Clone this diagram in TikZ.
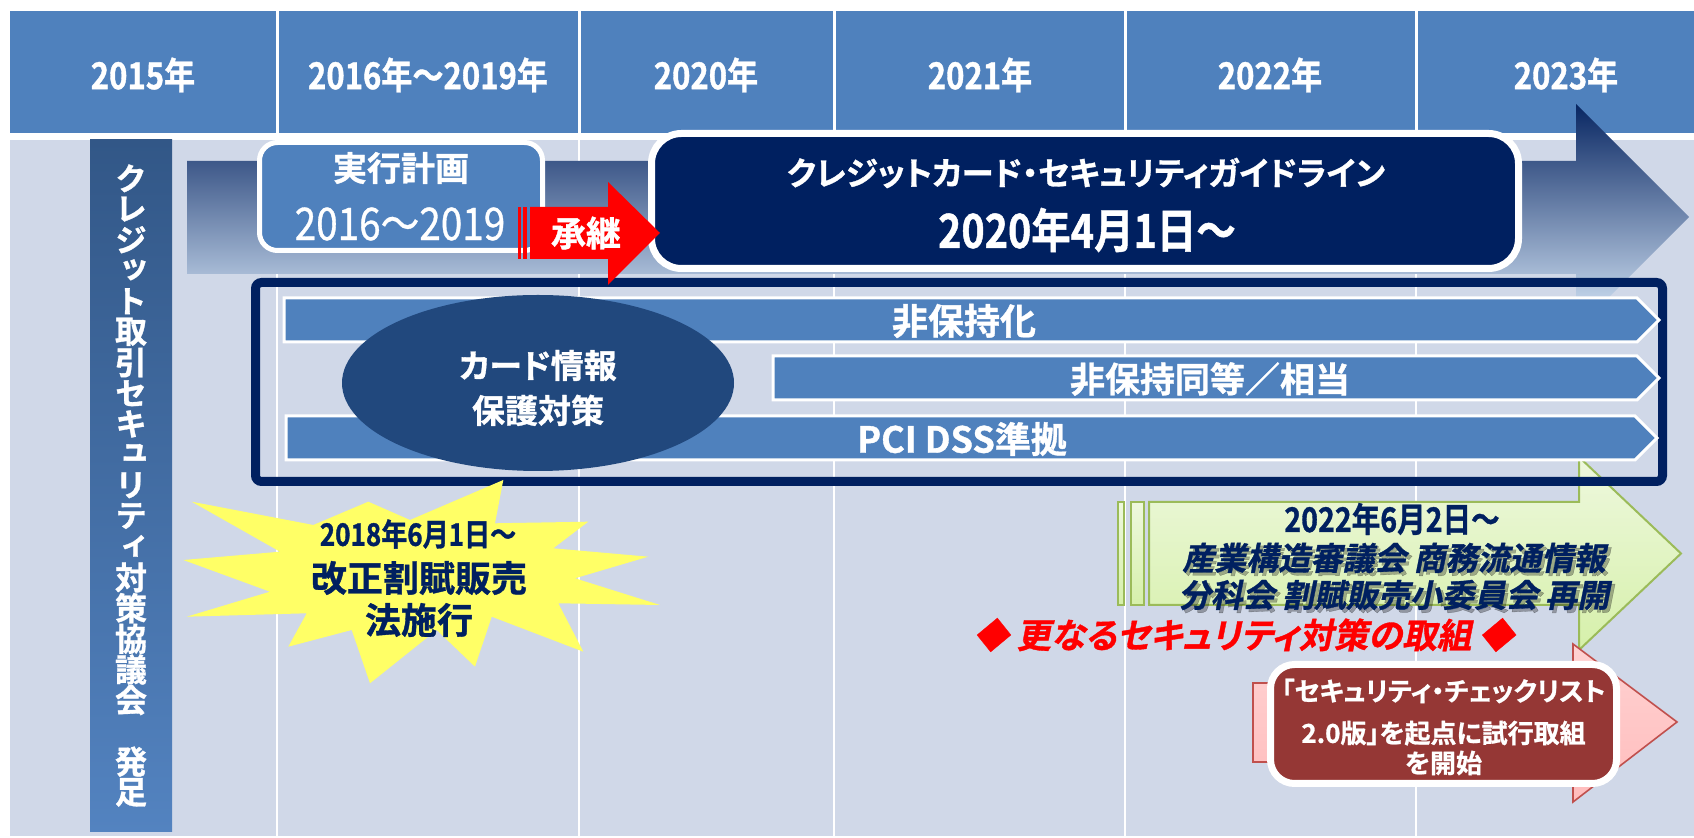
\documentclass[tikz,border=0pt]{standalone}
\usepackage{fontspec}
\setmainfont{Noto Sans CJK JP}
\newfontfamily\jpb{Noto Sans CJK JP Bold}[RawFeature=+palt,FakeBold=1]
\newfontfamily\jpbc{Noto Sans CJK JP Bold}[RawFeature=+palt,FakeStretch=0.84,FakeBold=1]
\newfontfamily\jpbsl{Noto Sans CJK JP Bold}[RawFeature=+palt,FakeSlant=0.2,FakeBold=1]
\newfontfamily\jprc{Noto Sans CJK JP}[FakeStretch=0.86,FakeBold=0.7]
\newfontfamily\jpvert{Noto Sans CJK JP Bold}[RawFeature=+vert,FakeBold=1]
\usetikzlibrary{shapes.geometric}
\definecolor{hdr}{RGB}{79,129,189}
\definecolor{bgb}{RGB}{208,216,232}
\definecolor{navy}{RGB}{0,32,96}
\definecolor{ell}{RGB}{33,72,125}
\definecolor{bartop}{RGB}{50,87,135}
\definecolor{barbot}{RGB}{83,131,192}
\definecolor{arrtop}{RGB}{8,38,98}
\definecolor{arrbot}{RGB}{220,236,252}
\definecolor{ylw}{RGB}{255,255,102}
\definecolor{grntop}{RGB}{238,248,222}
\definecolor{grnbot}{RGB}{214,240,170}
\definecolor{grnb}{RGB}{155,187,89}
\definecolor{pnktop}{RGB}{255,210,210}
\definecolor{pnkbot}{RGB}{255,188,188}
\definecolor{pnkb}{RGB}{192,80,77}
\definecolor{brn}{RGB}{149,55,53}
\tikzset{
  hdrtxt/.style={text=white, inner sep=0, font=\jpbc\fontsize{18.5}{20}\selectfont},
  vch/.style={text=white, inner sep=0, font=\jpvert\fontsize{16}{16}\selectfont},
  wtxt/.style={text=white, inner sep=0, align=center},
  ntxt/.style={text=navy, inner sep=0, align=center},
  barrow/.style={fill=hdr, draw=white, line width=1.5pt},
  greenarr/.style={top color=grntop, bottom color=grnbot, draw=grnb, line width=1pt},
  pinkarr/.style={top color=pnktop, bottom color=pnkbot, draw=pnkb, line width=0.8pt},
}
\begin{document}
\begin{tikzpicture}[x=0.5pt,y=-0.5pt]
\useasboundingbox (0,0) rectangle (1694,838);
\fill[white] (0,0) rectangle (1694,838);
% header and body
\fill[hdr] (10,11) rectangle (1694,133);
\fill[bgb] (10,140) rectangle (1694,836);
\foreach \xx in {277,579,834,1125,1416} {
  \draw[white,line width=1.5pt] (\xx,11) -- (\xx,133);
  \draw[white,line width=1pt] (\xx,140) -- (\xx,836);
}
\node[hdrtxt] (h1) at (143,75) {2015年};
\node[hdrtxt] (h2) at (428,75) {2016年～2019年};
\node[hdrtxt] (h3) at (706,75) {2020年};
\node[hdrtxt] (h4) at (980,75) {2021年};
\node[hdrtxt] (h5) at (1270,75) {2022年};
\node[hdrtxt] (h6) at (1566,75) {2023年};
% big gradient arrow
\shade[top color=arrtop,bottom color=arrbot] (187,161) -- (1576,161) -- (1576,104) -- (1689,217) -- (1576,330) -- (1576,274) -- (187,274) -- cycle;
% left vertical bar
\node[top color=bartop, bottom color=barbot, minimum width=41pt, minimum height=346pt, inner sep=0] (bar) at (131,486) {};
\foreach \ch [count=\i] in {ク,レ,ジ,ッ,ト,取,引,セ,キ,ュ,リ,テ,ィ,対,策,協,議,会} {
  \node[vch] (vc\i) at (131,{163+(\i-0.5)*30.7}) {\ch};
}
\node[vch] (vc20) at (131,{163+19.5*30.7}) {発};
\node[vch] (vc21) at (131,{163+20.5*30.7}) {足};
% green arrow (behind frame)
\shadedraw[greenarr] (1149,502) -- (1579,502) -- (1579,457) -- (1681,553.5) -- (1579,650) -- (1579,605) -- (1149,605) -- cycle;
\shadedraw[greenarr] (1118,502) rectangle (1123.5,605);
\shadedraw[greenarr] (1131,502) rectangle (1143.5,605);
% frame
\draw[navy, line width=4.5pt, rounded corners=3pt] (255.5,282.5) rectangle (1662.5,481.5);
% blue arrows
\draw[barrow] (284,298) -- (1637,298) -- (1659,320) -- (1637,342) -- (284,342) -- cycle;
\draw[barrow] (773,356) -- (1637,356) -- (1659,378) -- (1637,400) -- (773,400) -- cycle;
\draw[barrow] (286,416) -- (1635,416) -- (1657,438) -- (1635,460) -- (286,460) -- cycle;
\node[wtxt, font=\jpb\fontsize{18}{20}\selectfont] (t1) at (964,321) {非保持化};
\node[wtxt, font=\jpb\fontsize{17.5}{20}\selectfont] (t2) at (1210,379) {非保持同等／相当};
\node[wtxt, font=\jpb\fontsize{18}{20}\selectfont] (t3) at (962,439) {PCI DSS準拠};
% ellipse
\node[ellipse, fill=ell, minimum width=196pt, minimum height=88pt, inner sep=0] (ell) at (538,383) {};
\node[wtxt, font=\jpb\fontsize{16.5}{22.5}\selectfont] (cardtxt) at (538,388) {カード情報\\保護対策};
% plan box
\node[draw=white, line width=2.5pt, fill=hdr, rounded corners=9pt, minimum width=141.5pt, minimum height=54pt, inner sep=0] (plan) at (401,196.5) {};
\node[wtxt, font=\jpb\fontsize{17}{20}\selectfont] (plan1) at (401,168) {実行計画};
\node[wtxt, font=\jprc\fontsize{22.5}{24}\selectfont] (plan2) at (400,224) {2016～2019};
% guideline box
\node[draw=white, line width=3.5pt, fill=navy, rounded corners=15pt, minimum width=433.5pt, minimum height=67.5pt, inner sep=0] (guide) at (1085,201) {};
\node[wtxt, font=\jpb\fontsize{16.2}{20}\selectfont] (g1) at (1086,173) {クレジットカード・セキュリティガイドライン};
\node[wtxt, font=\jpbc\fontsize{23.5}{24}\selectfont] (g2) at (1087,230) {2020年4月1日～};
% red succession arrow
\fill[red] (517.5,207) rectangle (520.5,259);
\fill[red] (523,207) rectangle (527,259);
\fill[red] (530,207) -- (608,207) -- (608,182) -- (660,233) -- (608,285) -- (608,259) -- (530,259) -- cycle;
\node[wtxt, font=\jpb\fontsize{17.5}{20}\selectfont] (succ) at (586,233) {承継};
% star
\fill[ylw] (191.7,501.7) -- (313.3,525) -- (368.3,501.7) -- (410,520) -- (503.3,480) -- (495,523.3) -- (588.3,521.7) -- (553.3,548.3) -- (648.3,556.7) -- (575,578.3) -- (660,605) -- (558.3,603.3) -- (583.3,651.7) -- (491.7,616.7) -- (475,666.7) -- (436.7,630) -- (370,683.3) -- (351.7,630) -- (288.3,646.7) -- (306.7,613.3) -- (186.7,616.7) -- (270,591.7) -- (183.3,560) -- (280,551.7) -- cycle;
\node[ntxt, font=\jpbc\fontsize{15.5}{18}\selectfont] (s1) at (418,534) {2018年6月1日～};
\node[ntxt, font=\jpb\fontsize{18}{20}\selectfont] (s2) at (419,578) {改正割賦販売};
\node[ntxt, font=\jpb\fontsize{18}{20}\selectfont] (s3) at (419,620) {法施行};
% green arrow text
\node[ntxt, font=\jpbc\fontsize{17}{18}\selectfont] (gr1) at (1392,519) {2022年6月2日～};
\node[inner sep=0, text=black, opacity=0.3, font=\jpbsl\fontsize{16}{18}\selectfont] (gr2s) at (1397,561) {産業構造審議会 商務流通情報};
\node[inner sep=0, text=black, opacity=0.3, font=\jpbsl\fontsize{16}{18}\selectfont] (gr3s) at (1397,598) {分科会 割賦販売小委員会 再開};
\node[ntxt, font=\jpbsl\fontsize{16}{18}\selectfont] (gr2) at (1394,558) {産業構造審議会 商務流通情報};
\node[ntxt, font=\jpbsl\fontsize{16}{18}\selectfont] (gr3) at (1394,595) {分科会 割賦販売小委員会 再開};
% red heading
\node[inner sep=0, text=red, font=\jpbsl\fontsize{17.3}{18}\selectfont] (more) at (1244,635) {◆ 更なるセキュリティ対策の取組 ◆};
% pink arrow
\shadedraw[pinkarr] (1253,683) -- (1573,683) -- (1573,644) -- (1677,722) -- (1573,802) -- (1573,762) -- (1253,762) -- cycle;
% brown box
\node[draw=white, line width=3.5pt, fill=brn, rounded corners=12pt, minimum width=173pt, minimum height=59.5pt, inner sep=0] (check) at (1443.5,724) {};
\node[wtxt, font=\jpb\fontsize{13}{15}\selectfont] (checktxt) at (1443.5,727) {「セキュリティ・チェックリスト\\[6pt]2.0版」を起点に試行取組\\を開始};
\end{tikzpicture}
\end{document}
